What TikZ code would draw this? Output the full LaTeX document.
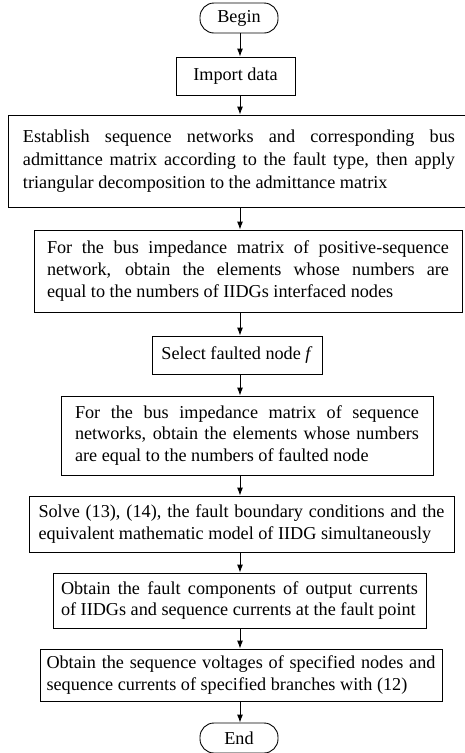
\documentclass[tikz,border=0pt]{standalone}
\usepackage{fontspec}
\setmainfont{Liberation Serif}
\usetikzlibrary{arrows.meta,positioning}
\tolerance=10000
\hyphenpenalty=10000

\begin{document}
\begin{tikzpicture}[x=1pt,y=-1pt,>={Latex[length=8pt,width=6pt]},line width=0.9pt,
  font=\fontsize{18.2}{21.7}\selectfont,
  term/.style={draw,rounded corners=14pt,minimum width=78pt,minimum height=30pt,inner sep=0pt},
  box/.style={draw,align=center,inner sep=0pt},
  proc/.style={draw,align=justify,inner ysep=0pt}]
  \useasboundingbox (0,0) rectangle (465,753);
  \clip (0,0) rectangle (465,753);
  \coordinate (axis) at (240,0);
  \node[term] (begin) at (239,18) {Begin};
  \node[box,minimum width=119pt,minimum height=38pt] (import) at (235.5,76) {Import data};
  \node[proc,text width=432pt,inner xsep=15pt,minimum height=92pt,
        font=\fontsize{18.2}{23}\selectfont] (establish) at (239,161)
    {Establish sequence networks and corresponding bus\linebreak
     admittance matrix according to the fault type, then apply\linebreak
     triangular decomposition to the admittance matrix};
  \node[proc,text width=402pt,inner xsep=13pt,minimum height=82pt] (imped1) at (248,271)
    {For the bus impedance matrix of positive-sequence\linebreak
     network, obtain the elements whose numbers are\linebreak
     equal to the numbers of IIDGs interfaced nodes};
  \node[box,minimum width=170pt,minimum height=38pt] (select) at (237,355)
    {Select faulted node \textit{f}};
  \node[proc,text width=344pt,inner xsep=14pt,minimum height=79pt] (imped2) at (247,435.5)
    {For the bus impedance matrix of sequence\linebreak
     networks, obtain the elements whose numbers\linebreak
     are equal to the numbers of faulted node};
  \node[proc,text width=406pt,inner xsep=9.5pt,minimum height=56pt] (solve) at (241.5,524)
    {Solve (13), (14), the fault boundary conditions and the\linebreak
     equivalent mathematic model of IIDG simultaneously};
  \node[proc,text width=357pt,inner xsep=8pt,minimum height=55pt] (comp) at (239.5,600.5)
    {Obtain the fault components of output currents\linebreak
     of IIDGs and sequence currents at the fault point};
  \node[proc,text width=389pt,inner xsep=6.5pt,minimum height=52pt] (volt) at (241,675)
    {Obtain the sequence voltages of specified nodes and\linebreak
     sequence currents of specified branches with (12)};
  \node[term] (end) at (239,738) {End};
  % flow
  \foreach \a/\b in {begin/import,import/establish,establish/imped1,imped1/select,
                     select/imped2,imped2/solve,solve/comp,comp/volt,volt/end}
    \draw[->] (axis |- \a.south) -- (axis |- \b.north);
\end{tikzpicture}
\end{document}
